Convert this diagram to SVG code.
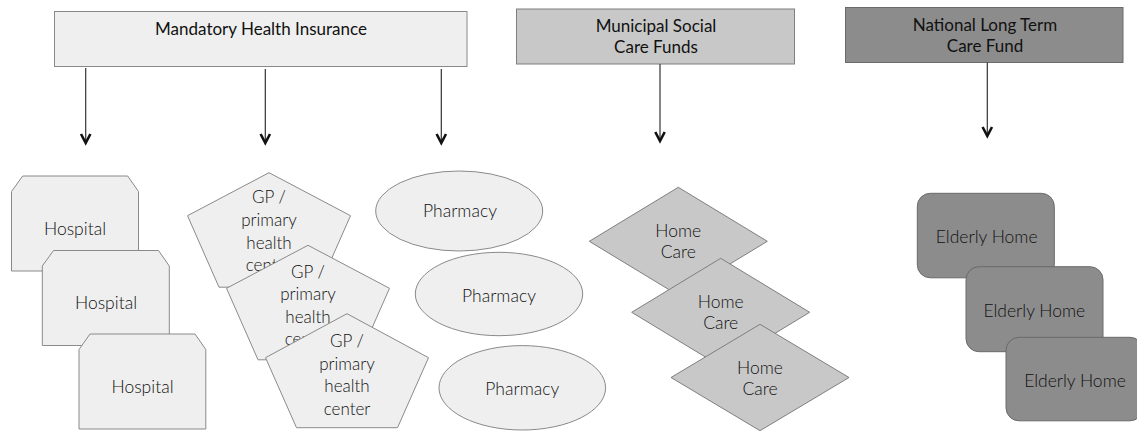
<svg xmlns="http://www.w3.org/2000/svg" width="1137" height="432" viewBox="0 0 1137 432">
<style>
.hdr{font-family:"Lato","Liberation Sans",sans-serif;font-size:17px;fill:#111;text-anchor:middle}
.lbl{font-family:"Lato","Liberation Sans",sans-serif;font-weight:300;font-size:17.5px;fill:#111;text-anchor:middle}
.gp{font-family:"Lato","Liberation Sans",sans-serif;font-weight:300;font-size:17px;fill:#111;text-anchor:middle}
.light{fill:#efefef;stroke:#8a8a8a;stroke-width:1}
.mid{fill:#c8c8c8;stroke:#7f7f7f;stroke-width:1}
.dark{fill:#8c8c8c;stroke:#6a6a6a;stroke-width:1}
.conn{stroke:#333;stroke-width:1.2;fill:none}
.head{stroke:#111;stroke-width:2.6;fill:none;stroke-linejoin:miter}
</style>
<g id="mandatory"><rect class="light" x="54.5" y="11.5" width="412.5" height="55"/><text class="hdr" x="261" y="35">Mandatory Health Insurance</text></g>
<g id="municipal"><rect class="mid" x="516.5" y="9" width="278" height="55"/><text class="hdr" x="656" y="32.3">Municipal Social</text><text class="hdr" x="656" y="53.3">Care Funds</text></g>
<g id="national"><rect class="dark" x="845.5" y="7.5" width="277.5" height="55"/><text class="hdr" x="985" y="30.7">National Long Term</text><text class="hdr" x="985" y="52.3">Care Fund</text></g>
<g id="connectors">
<line class="conn" x1="85.7" y1="68" x2="85.7" y2="142"/>
<path class="head" d="M81,134 L85.7,143 L90.4,134"/>
<line class="conn" x1="265.3" y1="69" x2="265.3" y2="142"/>
<path class="head" d="M260.6,134 L265.3,143 L270,134"/>
<line class="conn" x1="441.3" y1="69" x2="441.3" y2="142"/>
<path class="head" d="M436.6,134 L441.3,143 L446,134"/>
<line class="conn" x1="660" y1="64" x2="660" y2="140"/>
<path class="head" d="M655.3,132 L660,141 L664.7,132"/>
<line class="conn" x1="987.3" y1="62.5" x2="987.3" y2="135"/>
<path class="head" d="M982.6,127 L987.3,136 L992,127"/>
</g>
<g id="hospital1"><path class="light" d="M22.7,176 L127.7,176 L138.5,191.5 L138.5,271 L11.5,271 L11.5,191.5 Z"/><text class="lbl" x="75" y="235">Hospital</text></g>
<g id="hospital2"><path class="light" d="M53.5,250.5 L158.5,250.5 L169.3,266 L169.3,345.5 L42.3,345.5 L42.3,266 Z"/><text class="lbl" x="106" y="309">Hospital</text></g>
<g id="hospital3"><path class="light" d="M90,334 L195,334 L205.8,349.5 L205.8,429 L79,429 L79,349.5 Z"/><text class="lbl" x="142.5" y="392.7">Hospital</text></g>
<g id="gp1"><path class="light" d="M269,172.7 L350.5,215.7 L319,287.2 L219,287.2 L187.5,215.7 Z"/><text class="gp" x="269" y="203.3">GP /</text><text class="gp" x="269" y="226">primary</text><text class="gp" x="269" y="248.5">health</text><text class="gp" x="269" y="271">center</text></g>
<g id="gp2"><path class="light" d="M308,245.3 L389.5,288.3 L358,359.8 L258,359.8 L226.5,288.3 Z"/><text class="gp" x="308" y="277.7">GP /</text><text class="gp" x="308" y="300.2">primary</text><text class="gp" x="308" y="322.7">health</text><text class="gp" x="308" y="345.2">center</text></g>
<g id="gp3"><path class="light" d="M347,313.7 L428.5,357.7 L397.5,427.7 L296.5,427.7 L265.5,357.7 Z"/><text class="gp" x="347" y="347.3">GP /</text><text class="gp" x="347" y="369.8">primary</text><text class="gp" x="347" y="392.3">health</text><text class="gp" x="347" y="414.8">center</text></g>
<g id="pharmacy1"><ellipse class="light" cx="459.2" cy="211" rx="83.5" ry="40"/><text class="lbl" x="460" y="216.7">Pharmacy</text></g>
<g id="pharmacy2"><ellipse class="light" cx="499" cy="294" rx="83.7" ry="41.7"/><text class="lbl" x="499" y="301.7">Pharmacy</text></g>
<g id="pharmacy3"><ellipse class="light" cx="522.3" cy="387.8" rx="83.3" ry="42.2"/><text class="lbl" x="522.3" y="395">Pharmacy</text></g>
<g id="homecare1"><path class="mid" d="M678.3,187.3 L767.3,241.3 L678.3,295.3 L589.3,241.3 Z"/><text class="lbl" x="678.3" y="237.3">Home</text><text class="lbl" x="678.3" y="258.3">Care</text></g>
<g id="homecare2"><path class="mid" d="M720.7,258.3 L809.7,312.3 L720.7,366.3 L631.7,312.3 Z"/><text class="lbl" x="720.7" y="308.3">Home</text><text class="lbl" x="720.7" y="329.3">Care</text></g>
<g id="homecare3"><path class="mid" d="M760,324.3 L849,377.5 L760,430.7 L671,377.5 Z"/><text class="lbl" x="760" y="374.3">Home</text><text class="lbl" x="760" y="395">Care</text></g>
<g id="elderly1"><rect class="dark" x="917.3" y="193.3" width="137" height="84.5" rx="13"/><text class="lbl" x="986.7" y="242.7">Elderly Home</text></g>
<g id="elderly2"><rect class="dark" x="966" y="266.7" width="137" height="85" rx="13"/><text class="lbl" x="1034.3" y="316.7">Elderly Home</text></g>
<g id="elderly3"><rect class="dark" x="1006" y="337.3" width="137" height="83.5" rx="13"/><text class="lbl" x="1075" y="386.7">Elderly Home</text></g>
</svg>
